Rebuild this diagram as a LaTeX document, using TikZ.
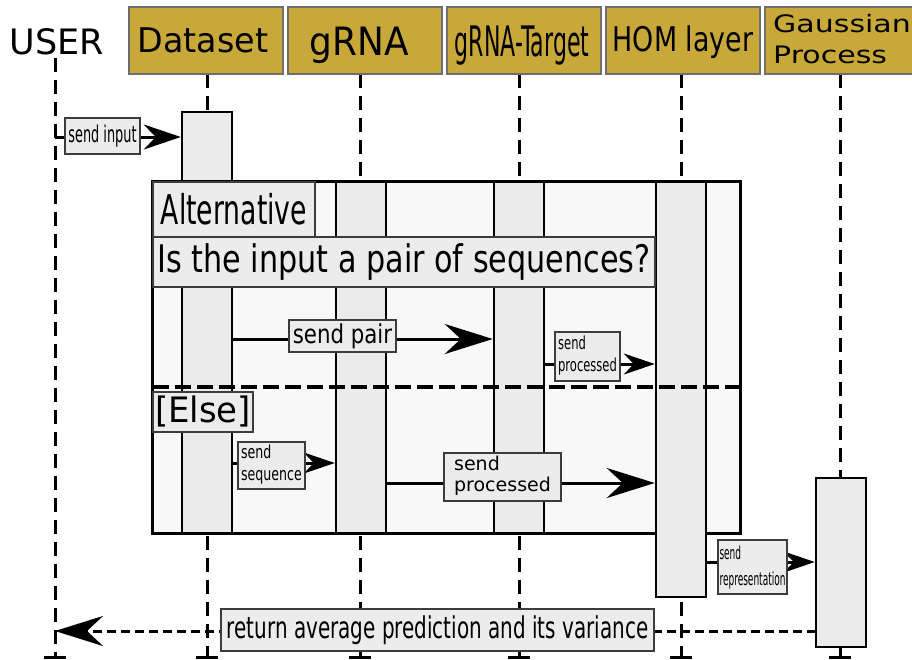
\documentclass[tikz,border=0pt]{standalone}
\usepackage{fontspec}
\setmainfont{DejaVu Sans}
\usepackage{graphicx}
\usetikzlibrary{arrows.meta}

\definecolor{headfill}{RGB}{200,168,56}
\definecolor{headline}{RGB}{110,110,110}
\definecolor{actfill}{RGB}{235,235,235}
\definecolor{framefill}{RGB}{248,248,248}
\definecolor{tagfill}{RGB}{236,236,236}
\definecolor{tagline}{RGB}{60,60,60}

% text of a given size, stretched or narrowed horizontally
\newcommand{\tx}[3]{{\fontsize{#1}{#1}\selectfont\scalebox{#2}[1]{#3}}}
% two-line text: size, baseline skip, horizontal scale, first line, second line
\newcommand{\txx}[5]{{\fontsize{#1}{#2}\selectfont\scalebox{#3}[1]{\begin{tabular}{@{}l@{}}#4\\#5\end{tabular}}}}

\tikzset{
  head/.style={draw=headline, line width=1.2pt, fill=headfill, inner sep=0pt,
    minimum width=154pt, minimum height=67pt},
  headtext/.style={anchor=base, inner sep=0pt},
  life/.style={line width=3pt, dash pattern=on 14pt off 8pt},
  lifeend/.style={line width=3pt},
  act/.style={draw=black, line width=2.5pt, fill=actfill, inner sep=0pt, minimum width=50pt},
  tag/.style={draw=tagline, line width=1.2pt, fill=tagfill, inner sep=0pt},
  msg/.style={line width=3pt},
  bigtip/.style={-{Stealth[length=48pt, width=30pt, inset=16pt]}},
  midtip/.style={-{Stealth[length=37pt, width=25pt, inset=12pt]}},
  smalltip/.style={-{Stealth[length=31pt, width=21pt, inset=10pt]}},
  reply/.style={line width=3pt, dash pattern=on 9pt off 5pt},
}

\begin{document}
\begin{tikzpicture}[x=1pt, y=-1pt]
\useasboundingbox (0,0) rectangle (912,659);

% lifeline end points
\coordinate (uTop) at (55,58);   \coordinate (uBot) at (55,657);
\coordinate (dTop) at (207,74);  \coordinate (dBot) at (207,657);
\coordinate (gTop) at (360,74);  \coordinate (gBot) at (360,657);
\coordinate (tTop) at (519,74);  \coordinate (tBot) at (519,657);
\coordinate (hTop) at (681,74);  \coordinate (hBot) at (681,657);
\coordinate (pTop) at (840,74);  \coordinate (pBot) at (840,657);

% lifelines
\foreach \l in {u,d,g,t,h,p}{
  \draw[life] (\l Top) -- (\l Bot);
  \draw[lifeend] ([xshift=-11pt]\l Bot) -- ([xshift=11pt]\l Bot);
}

% participants
\node[headtext] (tUser) at (57,54) {\tx{35}{1}{USER}};
\node[head] (hDS) at (206,40.5) {};
\node[head] (hGR) at (365,40.5) {};
\node[head] (hGT) at (524,40.5) {};
\node[head] (hHOM) at (683,40.5) {};
\node[head] (hGP) at (842,40.5) {};
\node[headtext] (tDS) at (203,52) {\tx{34}{0.98}{Dataset}};
\node[headtext] (tGR) at (359,55) {\tx{39}{0.92}{gRNA}};
\node[headtext] (tGT) at (522,56) {\tx{42}{0.525}{gRNA-Target}};
\node[headtext] (tHOM) at (683,51) {\tx{34}{0.79}{HOM layer}};
\node[anchor=base west, inner sep=0pt] (tGP1) at (773,32) {\tx{24}{1.25}{Gaussian}};
\node[anchor=base west, inner sep=0pt] (tGP2) at (773,63) {\tx{24}{1.25}{Process}};

% alternative fragment background
\node[fill=framefill, inner sep=0pt, minimum width=587pt, minimum height=351pt] (alt) at (446.5,357.5) {};

% activations inside the fragment
\node[act, minimum height=421pt] (aDS) at (207,322.5) {};
\node[act, minimum height=351pt] (aGR) at (361,357.5) {};
\node[act, minimum height=351pt] (aGT) at (519,357.5) {};

% fragment border
\draw[line width=3pt] (alt.north west) rectangle (alt.south east);

% activations crossing the fragment border
\node[act, minimum height=415pt] (aHOM) at (681,389.5) {};
\node[act, minimum height=169pt] (aGP) at (841,562.5) {};

% operand separator
\coordinate (sepL) at (153,387);
\draw[line width=4pt, dash pattern=on 16pt off 6pt] (sepL) -- (sepL -| alt.east);

% fragment tags
\node[tag, minimum width=162pt, minimum height=55pt] (altTag) at (234,209.5) {\tx{41}{0.65}{Alternative}};
\node[tag, minimum width=502pt, minimum height=50pt] (guard) at (404,262) {\tx{38}{0.795}{Is the input a pair of sequences?}};
\node[tag, minimum width=100pt, minimum height=40pt] (elseTag) at (203,412) {\tx{35}{0.97}{[Else]}};

% messages
\coordinate (m1) at (55,137);
\draw[msg, midtip] (m1) -- (m1 -| aDS.west);
\node[tag, minimum width=75pt, minimum height=36pt] (l1) at (102.5,136) {\tx{23}{0.56}{send input}};

\coordinate (m2) at (232,339);
\draw[msg, bigtip] (m2) -- (m2 -| aGT.west);
\node[tag, minimum width=107pt, minimum height=32pt] (l2) at (342.5,336) {\tx{26}{0.82}{send pair}};

\coordinate (m3) at (544,364);
\draw[msg, smalltip] (m3) -- (m3 -| aHOM.west);
\node[tag, minimum width=65pt, minimum height=49pt] (l3) at (587.5,356.5) {\txx{18}{22}{0.64}{send}{processed}};

\coordinate (m4) at (232,463);
\draw[msg, smalltip] (m4) -- (m4 -| aGR.west);
\node[tag, minimum width=67pt, minimum height=47pt] (l4) at (271.5,465.5) {\txx{18}{22}{0.7}{send}{sequence}};

\coordinate (m5) at (386,483);
\draw[msg, bigtip] (m5) -- (m5 -| aHOM.west);
\node[tag, minimum width=117pt, minimum height=48pt] (l5) at (502.5,477) {\txx{19}{21}{1}{send}{processed}};

\coordinate (m6) at (706,562);
\draw[msg, smalltip] (m6) -- (m6 -| aGP.west);
\node[tag, minimum width=69pt, minimum height=54pt] (l6) at (752.5,567) {\txx{18}{26}{0.5}{send}{representation}};

\coordinate (m7) at (816,631);
\draw[reply, bigtip] (m7) -- (m7 -| uBot);
\node[tag, minimum width=433pt, minimum height=42pt] (l7) at (437.5,630) {\tx{30}{0.665}{return average prediction and its variance}};

\end{tikzpicture}
\end{document}
